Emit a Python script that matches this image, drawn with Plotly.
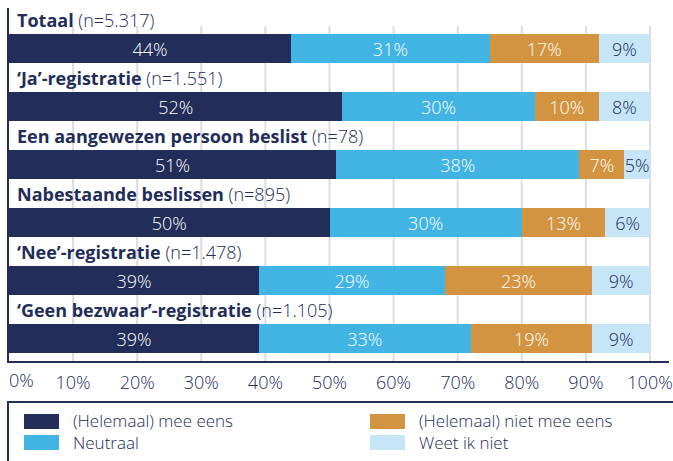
import plotly.graph_objects as go

categories = ["Totaal", "‘Ja’-registratie", "Een aangewezen persoon beslist",
              "Nabestaande beslissen", "‘Nee’-registratie", "‘Geen bezwaar’-registratie"]
n_labels = ["(n=5.317)", "(n=1.551)", "(n=78)", "(n=895)", "(n=1.478)", "(n=1.105)"]

series_names = ["(Helemaal) mee eens", "Neutraal", "(Helemaal) niet mee eens", "Weet ik niet"]
mee_eens = [44, 52, 51, 50, 39, 39]
neutraal = [31, 30, 38, 30, 29, 33]
niet_mee_eens = [17, 10, 7, 13, 23, 19]
weet_niet = [9, 8, 5, 6, 9, 9]

tick_values = [0, 10, 20, 30, 40, 50, 60, 70, 80, 90, 100]
tick_labels = ["0%", "10%", "20%", "30%", "40%", "50%", "60%", "70%", "80%", "90%", "100%"]

NAVY = "#222d59"
colors = [NAVY, "#42b4e4", "#d29441", "#c6e6f7"]
text_colors = ["white", "white", "white", NAVY]
FONT = "Open Sans"
FS = 18

W, H = 673, 461
ML, MR, MT, MB = 9, 4, 8, 100
PW, PH = W - ML - MR, H - MT - MB


def px(x):
    return (x - ML) / PW


def py(y):
    return (H - MB - y) / PH


def light(color, size=FS):
    return dict(size=size, color=color, family=FONT, weight=300)


all_series = [mee_eens, neutraal, niet_mee_eens, weet_niet]
# the last segment fills the bar up to 100%
weet_niet_width = [100 - a - b - c for a, b, c in zip(mee_eens, neutraal, niet_mee_eens)]
widths = [mee_eens, neutraal, niet_mee_eens, weet_niet_width]

fig = go.Figure()
for name, vals, wvals, col, tcol in zip(series_names, all_series, widths, colors, text_colors):
    fig.add_trace(go.Bar(
        y=categories, x=wvals,
        name=name, orientation="h",
        marker=dict(color=col, line=dict(width=0)),
        width=0.517,
        text=[f"{v}%" for v in vals], textposition="inside", insidetextanchor="middle",
        textangle=0, constraintext="none", cliponaxis=False,
        textfont=light(tcol),
        hoverinfo="skip", showlegend=False,
    ))

annotations = []
for cat, n in zip(categories, n_labels):
    annotations.append(dict(
        x=0, y=cat, xref="x", yref="y", xanchor="left", yanchor="middle",
        xshift=6, yshift=28.5, showarrow=False,
        text=f"<b>{cat}</b> {n}", font=light(NAVY),
    ))

# 0% tick label (left-aligned so it is not clipped)
annotations.append(dict(
    x=tick_values[0], y=py(380), xref="x", yref="paper", xanchor="left", yanchor="middle",
    xshift=-2, showarrow=False, text=tick_labels[0], font=light(NAVY),
))

shapes = []
for v in tick_values[1:]:
    shapes.append(dict(type="line", xref="x", yref="paper", x0=v, x1=v, y0=0, y1=py(26),
                       line=dict(color="#dcdde1", width=2), layer="below"))

# legend box
shapes.append(dict(type="rect", xref="paper", yref="paper", x0=px(8), x1=px(690),
                   y0=py(402), y1=py(475), line=dict(color=NAVY, width=2),
                   fillcolor="rgba(0,0,0,0)"))
legend_pos = [(24, 414), (24, 435), (370, 414), (370, 435)]
for col, (lx, ly) in zip(colors, legend_pos):
    shapes.append(dict(type="rect", xref="paper", yref="paper", x0=px(lx), x1=px(lx + 35),
                       y0=py(ly + 15), y1=py(ly), line=dict(width=0), fillcolor=col))
for names, lx in [(series_names[:2], 24), (series_names[2:], 370)]:
    annotations.append(dict(x=px(lx + 47), y=py(432), xref="paper", yref="paper",
                            xanchor="left", yanchor="middle", align="left", showarrow=False,
                            text="<br>".join(names), font=light(NAVY, 17)))

x_max = 100 * PW / (650 - ML)
fig.update_layout(
    width=W, height=H, margin=dict(l=ML, r=MR, t=MT, b=MB, autoexpand=False),
    barmode="stack", plot_bgcolor="white", paper_bgcolor="white",
    font=dict(family=FONT, color=NAVY),
    uniformtext=dict(minsize=FS, mode="show"),
    xaxis=dict(range=[0, x_max], tickvals=tick_values[1:], ticktext=tick_labels[1:],
               showgrid=False, zeroline=False, showline=True, linecolor=NAVY, linewidth=2,
               ticks="outside", ticklen=4, tickcolor="rgba(0,0,0,0)",
               tickfont=light(NAVY), fixedrange=True),
    yaxis=dict(categoryorder="array", categoryarray=categories,
               range=[5 + 22.5 / 58, -40.5 / 58], showticklabels=False, showgrid=False,
               zeroline=False, showline=True, linecolor=NAVY, linewidth=2, fixedrange=True),
    shapes=shapes, annotations=annotations,
)

fig.write_html("out.html", config={"displayModeBar": False},
               post_script="document.body.style.margin='0';")
